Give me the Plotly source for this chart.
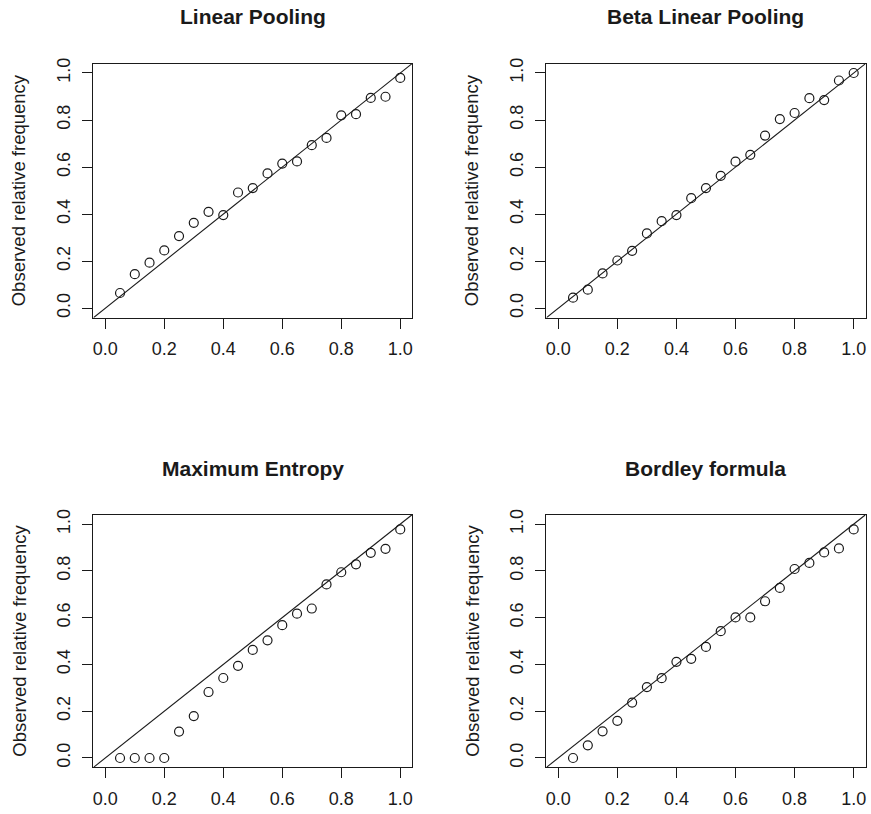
import plotly.graph_objects as go

# ---- data ----
forecast_prob = [0.05, 0.10, 0.15, 0.20, 0.25, 0.30, 0.35, 0.40, 0.45, 0.50,
                 0.55, 0.60, 0.65, 0.70, 0.75, 0.80, 0.85, 0.90, 0.95, 1.00]

linear_pooling = [0.065, 0.145, 0.194, 0.246, 0.307, 0.363, 0.410, 0.396, 0.492, 0.511,
                  0.573, 0.615, 0.624, 0.693, 0.724, 0.820, 0.825, 0.894, 0.899, 0.979]

beta_linear_pooling = [0.045, 0.079, 0.148, 0.203, 0.244, 0.318, 0.370, 0.396, 0.468, 0.511,
                       0.563, 0.623, 0.652, 0.734, 0.804, 0.830, 0.893, 0.885, 0.968, 1.000]

maximum_entropy = [0.0, 0.0, 0.0, 0.0, 0.113, 0.179, 0.282, 0.342, 0.394, 0.462,
                   0.503, 0.568, 0.617, 0.639, 0.742, 0.794, 0.828, 0.877, 0.894, 0.977]

bordley_formula = [0.0, 0.054, 0.114, 0.159, 0.237, 0.303, 0.341, 0.411, 0.424, 0.475,
                   0.542, 0.601, 0.601, 0.670, 0.727, 0.808, 0.834, 0.879, 0.896, 0.977]

panel_titles = ["Linear Pooling", "Beta Linear Pooling", "Maximum Entropy", "Bordley formula"]
series = [linear_pooling, beta_linear_pooling, maximum_entropy, bordley_formula]
y_label = "Observed relative frequency"
tick_vals = [0.0, 0.2, 0.4, 0.6, 0.8, 1.0]
tick_text = ["0.0", "0.2", "0.4", "0.6", "0.8", "1.0"]
axis_range = [-0.04, 1.04]

# ---- layout geometry (pixels) ----
W, H = 871, 814
boxes = [  # left, right, top, bottom in px
    (92.7, 412.0, 58.0, 314.0),
    (546.7, 866.5, 58.0, 314.0),
    (92.7, 412.0, 512.5, 767.0),
    (546.7, 866.5, 512.5, 767.0),
]

FONT = "Liberation Sans, Arial, Helvetica, sans-serif"
INK = "#1a1a1a"

fig = go.Figure()
annotations = []
layout_axes = {}

for i, (title, ys, (l, r, t, b)) in enumerate(zip(panel_titles, series, boxes)):
    n = "" if i == 0 else str(i + 1)
    xa, ya = "x" + n, "y" + n
    # identity line (abline(0,1)) across the axis range
    fig.add_trace(go.Scatter(x=axis_range, y=axis_range, mode="lines",
                             line=dict(color=INK, width=1.1),
                             xaxis=xa, yaxis=ya, showlegend=False, hoverinfo="skip"))
    fig.add_trace(go.Scatter(x=forecast_prob, y=ys, mode="markers",
                             marker=dict(symbol="circle-open", size=9,
                                         color=INK, line=dict(width=1.2, color=INK)),
                             xaxis=xa, yaxis=ya, showlegend=False))
    axis_common = dict(range=axis_range, showgrid=False, zeroline=False,
                       showline=True, mirror=True, linecolor=INK, linewidth=1.2,
                       ticks="outside", ticklen=10, tickwidth=1.1, tickcolor=INK,
                       tickvals=tick_vals, ticktext=tick_text,
                       tickfont=dict(family=FONT, size=18, color=INK))
    layout_axes["xaxis" + n] = dict(axis_common, domain=[l / W, r / W], anchor=ya,
                                    ticklabelstandoff=5)
    layout_axes["yaxis" + n] = dict(axis_common, domain=[1 - b / H, 1 - t / H], anchor=xa,
                                    tickangle=-90, ticklabelstandoff=5)
    annotations.append(dict(text="<b>" + title + "</b>", xref="paper", yref="paper",
                            x=(l + r) / 2 / W, y=1 - (t - 47) / H,
                            xanchor="center", yanchor="middle", showarrow=False,
                            font=dict(family=FONT, size=21, color=INK)))
    annotations.append(dict(text=y_label, xref="paper", yref="paper",
                            x=(l - 75) / W, y=1 - (t + b) / 2 / H, textangle=-90,
                            xanchor="center", yanchor="middle", showarrow=False,
                            font=dict(family=FONT, size=18.5, color=INK)))

fig.update_layout(width=W, height=H, margin=dict(l=0, r=0, t=0, b=0),
                  paper_bgcolor="white", plot_bgcolor="white",
                  annotations=annotations, **layout_axes)

fig.write_html("out.html", config={"displayModeBar": False},
               post_script="document.body.style.margin='0';document.body.style.overflow='hidden';")
